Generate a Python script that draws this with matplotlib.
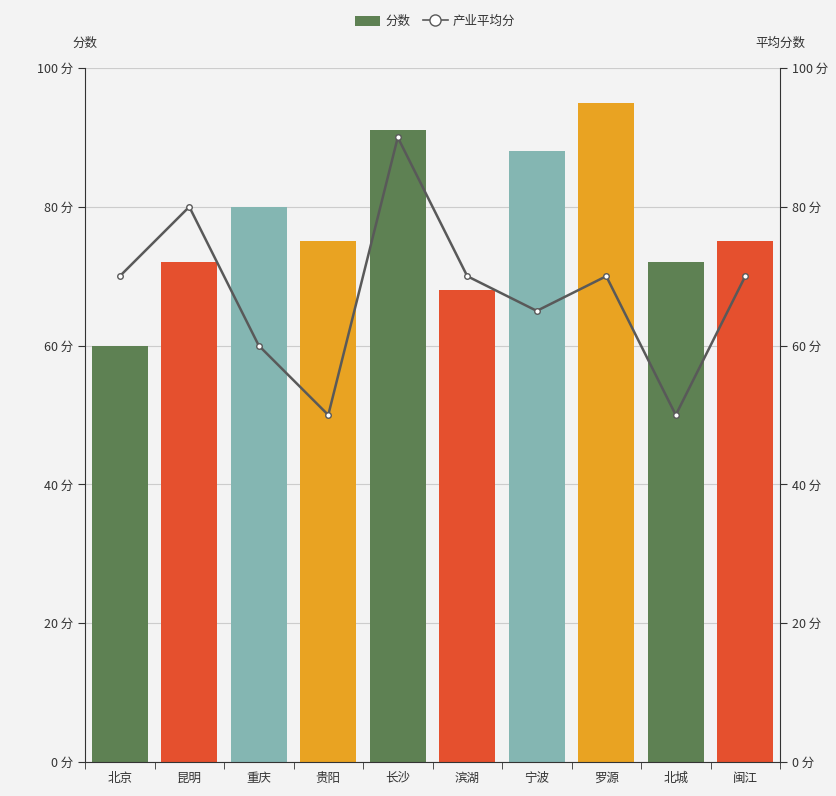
import matplotlib.pyplot as plt
from matplotlib.lines import Line2D
from matplotlib.patches import Patch

plt.rcParams['font.family'] = ['Noto Sans CJK SC', 'DejaVu Sans']

cidades = ['北京', '昆明', '重庆', '贵阳', '长沙', '滨湖', '宁波', '罗源', '北城', '闽江']
pontuacao = [60, 72, 80, 75, 91, 68, 88, 95, 72, 75]
media = [70, 80, 60, 50, 90, 70, 65, 70, 50, 70]
cores = ['#5e8153', '#e5502e', '#84b6b2', '#e9a322']

fundo = '#f3f3f3'
texto = '#333333'

fig = plt.figure(figsize=(8.37, 7.96), dpi=100, facecolor=fundo)
ax = fig.add_axes([0.1016, 0.0427, 0.8303, 0.8719])
ax.set_facecolor(fundo)

x = list(range(len(cidades)))
ax.bar(x, pontuacao, width=0.8, color=[cores[i % 4] for i in x], zorder=2)
ax.set_xlim(-0.5, len(cidades) - 0.5)
ax.set_ylim(0, 100)
ax.set_yticks(range(0, 101, 20))
ax.set_yticklabels([f'{v} 分' for v in range(0, 101, 20)])
ax.set_xticks(x)
ax.set_xticklabels(cidades)
ax.set_xticks([i - 0.5 for i in range(len(cidades) + 1)], minor=True)
ax.tick_params(axis='x', which='major', length=0, pad=7, labelsize=9, colors=texto)
ax.tick_params(axis='x', which='minor', length=5, color=texto)
ax.tick_params(axis='y', length=5, labelsize=9, colors=texto)
ax.grid(axis='y', color='#cccccc', linewidth=0.8, zorder=0)
for lado in ['top', 'right']:
    ax.spines[lado].set_visible(False)
ax.spines['left'].set_color(texto)
ax.spines['bottom'].set_color(texto)

ax2 = ax.twinx()
ax2.set_ylim(0, 100)
ax2.set_yticks(range(0, 101, 20))
ax2.set_yticklabels([f'{v} 分' for v in range(0, 101, 20)])
ax2.tick_params(axis='y', length=5, labelsize=9, colors=texto)
ax2.spines['right'].set_color(texto)
for lado in ['top', 'left', 'bottom']:
    ax2.spines[lado].set_visible(False)
ax2.plot(x, media, color='#595959', linewidth=1.8, marker='o', markersize=4,
         markerfacecolor='white', markeredgecolor='#595959', markeredgewidth=1, zorder=3)

fig.text(0.1016, 0.937, '分数', ha='center', va='bottom', fontsize=9, color=texto)
fig.text(0.9319, 0.937, '平均分数', ha='center', va='bottom', fontsize=9, color=texto)

itens = [Patch(facecolor=cores[0], edgecolor='none'),
         Line2D([0], [0], color='#595959', marker='o', markersize=8,
                markerfacecolor='white', markeredgecolor='#595959', linewidth=1.2)]
fig.legend(itens, ['分数', '产业平均分'], loc='upper center', bbox_to_anchor=(0.52, 0.995),
           ncol=2, frameon=False, fontsize=9, handlelength=2, handleheight=0.9,
           columnspacing=1.0, handletextpad=0.4, labelcolor=texto)

fig.savefig('out.png', dpi=100, facecolor=fundo)
